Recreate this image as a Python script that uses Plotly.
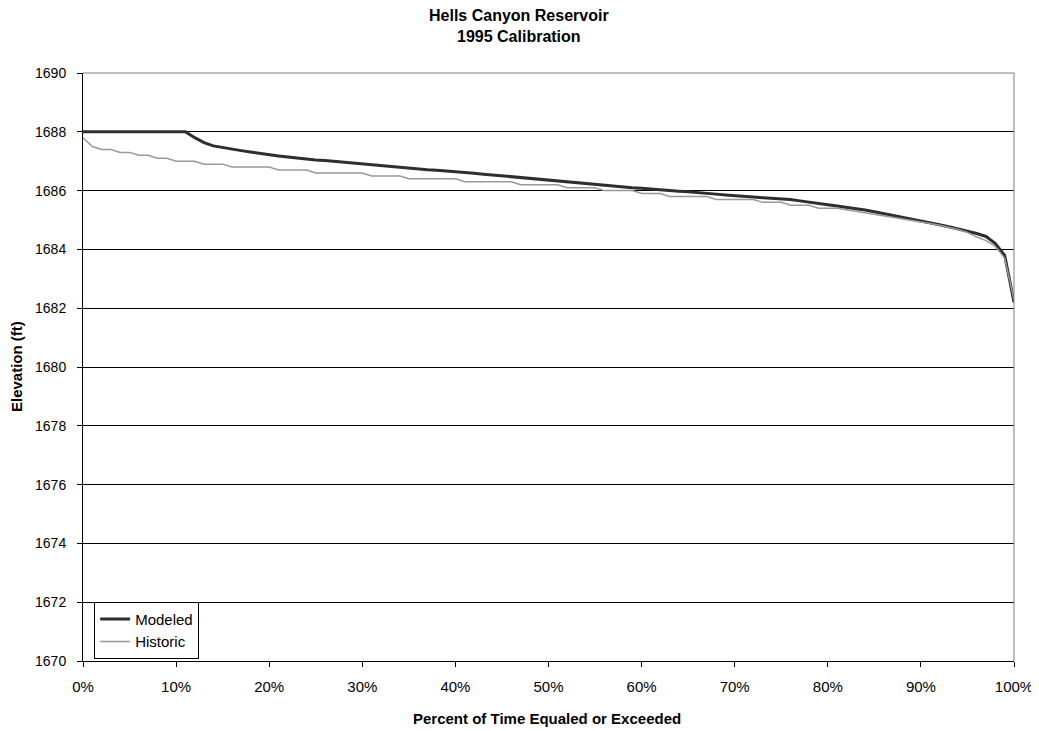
import plotly.graph_objects as go

percent = list(range(0, 101))

modeled = [
    1688.00, 1688.00, 1688.00, 1688.00, 1688.00, 1688.00, 1688.00, 1688.00, 1688.00, 1688.00,
    1688.00, 1688.00, 1687.80, 1687.63, 1687.52, 1687.46, 1687.41, 1687.36, 1687.31, 1687.26,
    1687.22, 1687.18, 1687.14, 1687.10, 1687.07, 1687.04, 1687.02, 1686.99, 1686.96, 1686.93,
    1686.90, 1686.87, 1686.84, 1686.81, 1686.78, 1686.75, 1686.73, 1686.71, 1686.69, 1686.67,
    1686.65, 1686.62, 1686.59, 1686.56, 1686.53, 1686.50, 1686.47, 1686.44, 1686.41, 1686.38,
    1686.35, 1686.33, 1686.30, 1686.27, 1686.24, 1686.21, 1686.18, 1686.15, 1686.12, 1686.10,
    1686.08, 1686.05, 1686.03, 1686.01, 1685.98, 1685.96, 1685.94, 1685.91, 1685.88, 1685.85,
    1685.82, 1685.80, 1685.78, 1685.76, 1685.74, 1685.73, 1685.70, 1685.65, 1685.60, 1685.56,
    1685.52, 1685.48, 1685.44, 1685.40, 1685.34, 1685.28, 1685.22, 1685.15, 1685.09, 1685.03,
    1684.97, 1684.91, 1684.84, 1684.77, 1684.70, 1684.62, 1684.54, 1684.44, 1684.20, 1683.80,
    1682.20,
]

historic = [
    1687.80, 1687.50, 1687.40, 1687.40, 1687.30, 1687.30, 1687.20, 1687.20, 1687.10, 1687.10,
    1687.00, 1687.00, 1687.00, 1686.90, 1686.90, 1686.90, 1686.80, 1686.80, 1686.80, 1686.80,
    1686.80, 1686.70, 1686.70, 1686.70, 1686.70, 1686.60, 1686.60, 1686.60, 1686.60, 1686.60,
    1686.60, 1686.50, 1686.50, 1686.50, 1686.50, 1686.40, 1686.40, 1686.40, 1686.40, 1686.40,
    1686.40, 1686.30, 1686.30, 1686.30, 1686.30, 1686.30, 1686.30, 1686.20, 1686.20, 1686.20,
    1686.20, 1686.20, 1686.10, 1686.10, 1686.10, 1686.10, 1686.00, 1686.00, 1686.00, 1686.00,
    1685.90, 1685.90, 1685.90, 1685.80, 1685.80, 1685.80, 1685.80, 1685.80, 1685.70, 1685.70,
    1685.70, 1685.70, 1685.70, 1685.60, 1685.60, 1685.60, 1685.50, 1685.50, 1685.50, 1685.40,
    1685.40, 1685.40, 1685.35, 1685.30, 1685.25, 1685.20, 1685.15, 1685.10, 1685.05, 1685.00,
    1684.95, 1684.88, 1684.82, 1684.76, 1684.68, 1684.58, 1684.42, 1684.30, 1684.10, 1683.70,
    1682.30,
]

title_lines = ["Hells Canyon Reservoir", "1995 Calibration"]
x_title = "Percent of Time Equaled or Exceeded"
y_title = "Elevation (ft)"

FONT = "Liberation Sans, Arial, sans-serif"

fig = go.Figure()
fig.add_trace(go.Scatter(x=percent, y=modeled, mode="lines", name="Modeled",
                         line=dict(color="#2e2e2e", width=3)))
fig.add_trace(go.Scatter(x=percent, y=historic, mode="lines", name="Historic",
                         line=dict(color="#999999", width=1.5)))

# page has an 8px body margin; figure sized so the plot area lands at the reference position
fig.update_layout(
    width=1031, height=723,
    margin=dict(l=75, r=25, t=65, b=70),
    paper_bgcolor="white", plot_bgcolor="white",
    font=dict(family=FONT, size=14, color="black"),
    showlegend=True,
    legend=dict(x=0.012, y=0.004, xanchor="left", yanchor="bottom",
                bgcolor="white", bordercolor="black", borderwidth=1,
                font=dict(family=FONT, size=15, color="black"),
                tracegroupgap=0, itemwidth=30),
    xaxis=dict(range=[0, 100], tickmode="linear", tick0=0, dtick=10, ticksuffix="%",
               showgrid=False, zeroline=False, showline=True, linecolor="black", linewidth=1,
               ticks="outside", ticklen=5, tickcolor="black", automargin=False,
               tickfont=dict(family=FONT, size=15), ticklabelstandoff=7),
    yaxis=dict(range=[1670, 1690], tickmode="linear", tick0=1670, dtick=2,
               showgrid=True, gridcolor="black", gridwidth=1, zeroline=False,
               showline=True, linecolor="black", linewidth=1,
               ticks="outside", ticklen=5, tickcolor="black", automargin=False,
               tickfont=dict(family=FONT, size=14), ticklabelstandoff=8),
    shapes=[
        dict(type="line", xref="paper", yref="paper", x0=0, x1=1, y0=1, y1=1,
             line=dict(color="#808080", width=1)),
        dict(type="line", xref="paper", yref="paper", x0=1, x1=1, y0=0, y1=1,
             line=dict(color="#808080", width=1)),
    ],
    annotations=[
        dict(text="<b>" + title_lines[0] + "</b>", xref="paper", yref="paper",
             x=0.468, y=1 + 58 / 588, xanchor="center", yanchor="middle", showarrow=False,
             font=dict(family=FONT, size=16, color="black")),
        dict(text="<b>" + title_lines[1] + "</b>", xref="paper", yref="paper",
             x=0.468, y=1 + 36 / 588, xanchor="center", yanchor="middle", showarrow=False,
             font=dict(family=FONT, size=16, color="black")),
        dict(text="<b>" + x_title + "</b>", xref="paper", yref="paper",
             x=0.498, y=-57 / 588, xanchor="center", yanchor="middle", showarrow=False,
             font=dict(family=FONT, size=15, color="black")),
        dict(text="<b>" + y_title + "</b>", xref="paper", yref="paper",
             x=-67 / 931, y=0.5, xanchor="center", yanchor="middle", showarrow=False,
             textangle=-90, font=dict(family=FONT, size=15, color="black")),
    ],
)

fig.write_html("out.html")
